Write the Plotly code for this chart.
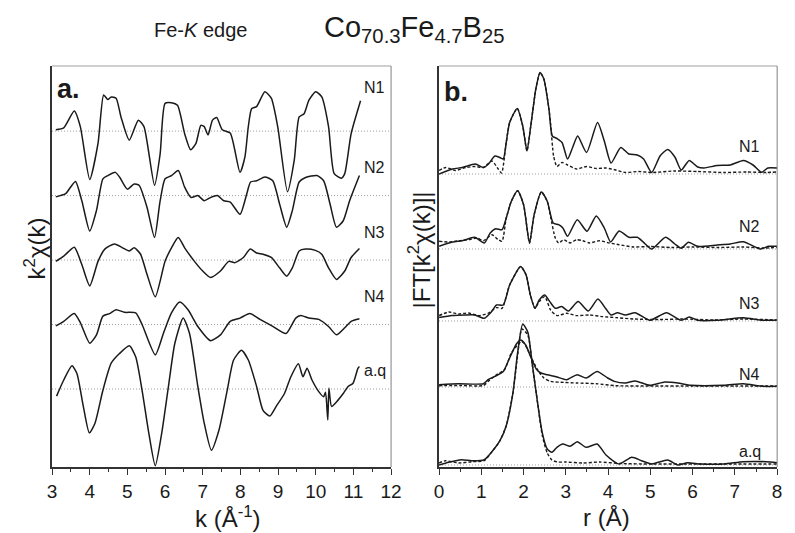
import plotly.graph_objects as go

# ---------------- panel a: k-space EXAFS, k^2 chi(k) ----------------
k_N1 = [3.10, 3.31, 3.59, 3.75, 4.00, 4.22, 4.37, 4.48, 4.57, 4.70, 4.83, 5.05, 5.29, 5.44, 5.72, 5.87, 6.00, 6.17,
        6.33, 6.52, 6.68, 6.82, 6.95, 7.04, 7.14, 7.26, 7.37, 7.52, 7.73, 7.99, 8.12, 8.21, 8.30, 8.43, 8.65, 8.82,
        8.99, 9.25, 9.43, 9.56, 9.69, 9.82, 10.00, 10.16, 10.34, 10.49, 10.68, 10.77, 10.94, 11.19]
chi_N1 = [0.02, 0.05, 0.31, 0.07, -0.75, -0.19, 0.56, 0.49, 0.53, 0.51, 0.22, -0.14, 0.17, 0.07, -0.84, -0.35, 0.43,
          0.44, 0.40, -0.04, -0.29, -0.19, 0.09, 0.07, -0.06, 0.17, 0.21, 0.02, -0.03, -0.64, -0.40, 0.07, 0.35, 0.38,
          0.61, 0.51, 0.07, -0.94, -0.45, 0.22, 0.27, 0.48, 0.61, 0.53, 0.07, -0.66, -0.73, -0.66, -0.04, 0.47]

k_N2 = [3.10, 3.36, 3.62, 3.79, 4.00, 4.18, 4.35, 4.48, 4.68, 4.80, 5.00, 5.18, 5.31, 5.52, 5.72, 5.87, 6.00, 6.17,
        6.35, 6.52, 6.69, 6.87, 7.04, 7.21, 7.39, 7.56, 7.73, 7.99, 8.17, 8.27, 8.43, 8.65, 8.86, 9.04, 9.23, 9.38,
        9.56, 9.73, 10.03, 10.21, 10.38, 10.55, 10.73, 10.90, 11.16]
chi_N2 = [-0.02, 0.03, 0.22, -0.08, -0.55, -0.23, 0.26, 0.31, 0.36, 0.28, 0.10, 0.18, 0.16, -0.18, -0.65, -0.08, 0.26,
          0.31, 0.39, 0.13, -0.03, 0.00, -0.08, -0.03, 0.00, -0.08, -0.10, -0.29, 0.03, 0.21, 0.23, 0.29, 0.23, -0.13,
          -0.49, -0.23, 0.21, 0.28, 0.31, 0.23, -0.13, -0.49, -0.39, -0.08, 0.31]

k_N3 = [3.10, 3.31, 3.59, 3.79, 4.00, 4.22, 4.40, 4.66, 4.87, 5.05, 5.18, 5.35, 5.52, 5.74, 6.00, 6.17, 6.35, 6.52,
        6.78, 7.00, 7.21, 7.47, 7.69, 7.86, 8.08, 8.26, 8.43, 8.60, 8.82, 9.04, 9.23, 9.38, 9.56, 9.73, 9.99, 10.16,
        10.34, 10.55, 10.77, 10.94, 11.16]
chi_N3 = [-0.02, 0.06, 0.20, -0.07, -0.40, -0.02, 0.17, 0.25, 0.19, 0.14, 0.19, 0.09, -0.22, -0.57, -0.02, 0.19, 0.35,
          0.19, -0.02, -0.17, -0.27, -0.17, -0.02, -0.04, 0.04, 0.17, 0.11, 0.09, 0.04, -0.12, -0.25, -0.12, 0.14,
          0.17, 0.15, 0.09, -0.12, -0.30, -0.17, 0.04, 0.18]

k_N4 = [3.10, 3.31, 3.59, 3.75, 4.00, 4.18, 4.35, 4.53, 4.70, 4.92, 5.22, 5.39, 5.74, 5.96, 6.17, 6.39, 6.61, 6.87,
        7.21, 7.47, 7.73, 7.99, 8.25, 8.52, 8.86, 9.21, 9.47, 9.60, 9.82, 10.08, 10.34, 10.55, 10.77, 10.94, 11.16]
chi_N4 = [-0.02, 0.05, 0.17, 0.03, -0.29, -0.16, 0.13, 0.17, 0.23, 0.19, 0.18, 0.00, -0.47, -0.13, 0.18, 0.35, 0.23,
          -0.03, -0.25, -0.16, 0.05, 0.10, 0.17, 0.08, -0.03, -0.14, 0.10, 0.14, 0.10, 0.08, -0.03, -0.16, -0.05,
          0.05, 0.09]

k_aq = [3.12, 3.31, 3.53, 3.66, 3.83, 3.99, 4.14, 4.35, 4.57, 4.79, 5.05, 5.22, 5.39, 5.57, 5.74, 5.91, 6.09, 6.26,
        6.48, 6.65, 6.87, 7.04, 7.23, 7.43, 7.65, 7.82, 8.03, 8.21, 8.43, 8.60, 8.78, 8.95, 9.17, 9.34, 9.54, 9.66,
        9.77, 9.90, 10.08, 10.21, 10.26, 10.32, 10.35, 10.42, 10.55, 10.73, 10.86, 10.99, 11.12, 11.16]
chi_aq = [-0.11, 0.14, 0.36, 0.24, -0.27, -0.68, -0.53, -0.02, 0.40, 0.55, 0.67, 0.50, -0.02, -0.69, -1.19, -0.69,
          0.04, 0.71, 1.10, 0.86, 0.04, -0.53, -0.95, -0.64, -0.02, 0.45, 0.60, 0.45, 0.04, -0.33, -0.42, -0.27,
          -0.07, 0.19, 0.39, 0.19, 0.32, 0.14, -0.04, -0.12, -0.05, -0.48, 0.01, -0.27, -0.20, -0.07, 0.04, 0.09,
          0.32, 0.35]

samples = ["N1", "N2", "N3", "N4", "a.q"]
k_offsets = [4.0, 3.0, 2.0, 1.0, 0.0]

# ---------------- panel b: |FT[k^2 chi(k)]| (solid = data, dashed = fit) ----------------
r_N1 = [0.00, 0.32, 0.55, 0.86, 1.05, 1.17, 1.32, 1.44, 1.52, 1.59, 1.67, 1.85, 1.98, 2.08, 2.17, 2.29, 2.39, 2.48,
        2.60, 2.68, 2.79, 2.91, 3.04, 3.16, 3.28, 3.49, 3.75, 3.91, 4.07, 4.30, 4.49, 4.69, 4.84, 5.03, 5.23, 5.41,
        5.58, 5.73, 5.92, 6.12, 6.27, 6.58, 6.89, 7.20, 7.43, 7.63, 7.78, 8.00]
ft_N1 = [0.0, 0.5, 0.65, 1.0, 0.65, 1.0, 1.8, 1.65, 1.5, 3.15, 5.15, 6.55, 4.8, 2.3, 4.8, 8.5, 10.15, 9.5, 6.5, 3.8,
         3.55, 3.15, 1.5, 2.65, 3.8, 2.15, 5.15, 3.3, 1.1, 2.65, 2.0, 1.9, 1.5, 0.15, 1.8, 2.45, 1.7, 0.4, 1.35, 0.7,
         0.6, 0.85, 0.9, 1.35, 0.9, 0.17, 0.6, 0.6]
rf_N1 = [0.00, 0.16, 0.39, 0.63, 0.86, 1.05, 1.25, 1.40, 1.48, 1.59, 1.67, 1.85, 1.98, 2.08, 2.17, 2.29, 2.39, 2.48,
         2.60, 2.64, 2.71, 2.79, 2.91, 3.04, 3.26, 3.49, 3.72, 3.95, 4.18, 4.41, 4.72, 5.03, 5.58, 6.12, 6.74, 7.28,
         7.74, 8.00]
fit_N1 = [0.35, 0.65, 0.35, 0.65, 0.75, 0.65, 1.3, 0.5, 0.1, 3.15, 5.15, 6.55, 4.8, 2.3, 4.8, 8.5, 10.15, 9.5, 6.5,
          5.0, 1.8, 0.75, 1.15, 0.9, 0.5, 0.75, 0.55, 0.6, 0.4, 0.15, 0.25, 0.15, 0.3, 0.25, 0.15, 0.2, 0.15, 0.2]

r_N2 = [0.00, 0.32, 0.55, 0.84, 1.07, 1.21, 1.34, 1.49, 1.59, 1.71, 1.86, 2.00, 2.14, 2.25, 2.42, 2.56, 2.70, 2.83,
        2.93, 3.04, 3.27, 3.50, 3.72, 3.91, 4.06, 4.26, 4.49, 4.69, 4.84, 5.03, 5.36, 5.58, 5.73, 5.90, 6.12, 6.58,
        6.89, 7.20, 7.60, 7.80, 8.00]
ft_N2 = [0.27, 0.7, 0.83, 1.17, 0.6, 1.6, 2.03, 1.93, 3.1, 4.77, 5.83, 4.43, 0.6, 3.43, 5.7, 4.77, 2.6, 2.43, 2.1,
         1.27, 2.93, 1.77, 3.3, 2.1, 0.7, 1.8, 1.17, 1.17, 0.67, 0.0, 1.17, 0.5, 0.07, 0.67, 0.27, 0.4, 0.5, 0.73,
         0.0, 0.27, 0.27]
rf_N2 = [0.00, 0.25, 0.48, 0.70, 0.90, 1.05, 1.25, 1.40, 1.49, 1.59, 1.71, 1.86, 2.00, 2.14, 2.25, 2.42, 2.56, 2.64,
         2.75, 2.83, 2.95, 3.10, 3.25, 3.40, 3.56, 3.79, 4.03, 4.26, 4.60, 5.00, 5.50, 6.00, 6.60, 7.20, 7.70, 8.00]
fit_N2 = [0.77, 0.7, 0.83, 0.93, 1.1, 0.83, 1.43, 0.93, 0.77, 3.1, 4.77, 5.83, 4.43, 0.6, 3.43, 5.7, 4.77, 3.2,
          1.1, 0.6, 0.93, 0.6, 0.93, 0.83, 0.6, 0.83, 0.6, 0.43, 0.2, 0.25, 0.15, 0.2, 0.15, 0.2, 0.1, 0.15]

r_N3 = [0.00, 0.31, 0.62, 0.85, 1.07, 1.24, 1.36, 1.52, 1.67, 1.93, 2.06, 2.16, 2.27, 2.37, 2.50, 2.62, 2.75, 2.90,
        3.06, 3.29, 3.53, 3.76, 3.95, 4.07, 4.22, 4.41, 4.64, 4.99, 5.38, 5.73, 5.92, 6.12, 6.58, 7.20, 7.66, 8.00]
ft_N3 = [0.34, 0.54, 0.6, 0.6, 0.27, 0.93, 1.6, 1.6, 3.6, 5.44, 4.6, 2.6, 1.27, 2.1, 2.6, 1.94, 1.27, 1.44, 1.0,
         1.94, 1.0, 2.2, 1.2, 0.6, 0.83, 0.6, 0.83, 0.07, 0.83, 0.07, 0.4, 0.07, 0.07, 0.33, 0.07, 0.1]
rf_N3 = [0.00, 0.23, 0.46, 0.70, 0.93, 1.16, 1.36, 1.49, 1.67, 1.93, 2.06, 2.16, 2.27, 2.37, 2.50, 2.64, 2.79, 3.02,
         3.25, 3.56, 3.87, 4.18, 4.60, 5.20, 5.80, 6.50, 7.20, 8.00]
fit_N3 = [0.54, 0.9, 0.7, 0.8, 0.54, 0.77, 1.34, 1.27, 3.6, 5.44, 4.6, 2.6, 1.27, 1.94, 2.44, 1.1, 0.54, 0.77, 0.54,
          0.6, 0.44, 0.34, 0.2, 0.15, 0.2, 0.1, 0.2, 0.1]

r_N4 = [0.00, 0.46, 1.05, 1.16, 1.32, 1.52, 1.67, 1.83, 1.93, 2.05, 2.17, 2.30, 2.41, 2.56, 2.79, 3.02, 3.27, 3.48,
        3.74, 3.99, 4.15, 4.41, 4.64, 4.99, 5.34, 5.65, 5.96, 6.74, 7.20, 7.66, 8.00]
ft_N4 = [0.23, 0.33, 0.33, 0.73, 1.06, 1.56, 2.9, 4.3, 4.7, 4.2, 3.0, 1.8, 1.4, 1.23, 1.0, 0.73, 1.23, 0.9, 1.56,
         0.9, 0.56, 0.4, 0.6, 0.17, 0.5, 0.4, 0.17, 0.17, 0.33, 0.07, 0.07]
rf_N4 = [0.00, 0.50, 1.05, 1.16, 1.36, 1.55, 1.71, 1.93, 2.01, 2.17, 2.33, 2.48, 2.64, 2.95, 3.25, 3.72, 4.18, 5.00,
         6.00, 7.00, 8.00]
fit_N4 = [0.13, 0.15, 0.15, 0.56, 1.23, 1.73, 3.4, 4.5, 4.4, 3.06, 1.73, 0.9, 0.56, 0.46, 0.4, 0.33, 0.13, 0.1, 0.1,
          0.1, 0.1]

r_aq = [0.00, 0.23, 0.53, 0.77, 1.07, 1.24, 1.44, 1.59, 1.75, 1.86, 1.98, 2.10, 2.21, 2.33, 2.44, 2.56, 2.67, 2.79,
        2.93, 3.10, 3.27, 3.48, 3.74, 3.95, 4.26, 4.56, 4.79, 5.03, 5.41, 5.65, 5.88, 6.19, 6.74, 7.20, 7.74, 8.00]
ft_aq = [0.0, 0.27, 0.53, 0.43, 0.53, 1.27, 2.43, 3.93, 7.27, 11.27, 14.1, 13.27, 9.93, 6.27, 3.27, 1.6, 1.27, 1.77,
         2.1, 1.87, 2.33, 1.77, 2.1, 1.0, 0.1, 0.77, 0.43, 0.1, 0.5, 0.0, 0.23, 0.1, 0.1, 0.33, 0.33, 0.23]
rf_aq = [0.00, 0.15, 0.46, 0.77, 1.07, 1.24, 1.44, 1.59, 1.75, 1.86, 1.96, 2.10, 2.21, 2.33, 2.44, 2.56, 2.67, 2.80,
         3.00, 3.40, 3.80, 4.30, 5.00, 6.00, 7.00, 8.00]
fit_aq = [0.2, 0.43, 0.2, 0.33, 0.43, 1.27, 2.43, 3.93, 7.27, 11.0, 13.6, 13.0, 9.93, 6.27, 3.0, 1.2, 0.5, 0.3, 0.3,
          0.2, 0.3, 0.15, 0.1, 0.1, 0.1, 0.1]

r_offsets = [29.3, 21.8, 14.6, 8.0, 0.2]

k_tick_vals = list(range(3, 13))
r_tick_vals = list(range(0, 9))

INK = "#1a1a1a"
FONT = "Liberation Sans, Arial, sans-serif"

fig = go.Figure()

k_series = [(k_N1, chi_N1), (k_N2, chi_N2), (k_N3, chi_N3), (k_N4, chi_N4), (k_aq, chi_aq)]
for (kx, cy), off in zip(k_series, k_offsets):
    fig.add_trace(go.Scatter(x=[3, 12], y=[off, off], mode="lines", xaxis="x", yaxis="y",
                             line=dict(color="#9a9a9a", width=1, dash="1px,2px"), hoverinfo="skip"))
    fig.add_trace(go.Scatter(x=kx, y=[v + off for v in cy], mode="lines", xaxis="x", yaxis="y",
                             line=dict(color=INK, width=1.5, shape="spline", smoothing=0.6)))

r_series = [(r_N1, ft_N1, rf_N1, fit_N1), (r_N2, ft_N2, rf_N2, fit_N2), (r_N3, ft_N3, rf_N3, fit_N3),
            (r_N4, ft_N4, rf_N4, fit_N4), (r_aq, ft_aq, rf_aq, fit_aq)]
for (rx, fy, rfx, ffy), off in zip(r_series, r_offsets):
    fig.add_trace(go.Scatter(x=[0, 8], y=[off, off], mode="lines", xaxis="x2", yaxis="y2",
                             line=dict(color="#9a9a9a", width=1, dash="1px,2px"), hoverinfo="skip"))
    fig.add_trace(go.Scatter(x=rfx, y=[v + off for v in ffy], mode="lines", xaxis="x2", yaxis="y2",
                             line=dict(color=INK, width=1.4, dash="3px,2px", shape="spline", smoothing=0.6)))
    fig.add_trace(go.Scatter(x=rx, y=[v + off for v in fy], mode="lines", xaxis="x2", yaxis="y2",
                             line=dict(color=INK, width=1.5, shape="spline", smoothing=0.6)))

x_dom_a = [0.0604, 0.4956]
x_dom_b = [0.5572, 0.9912]
y_dom = [0.1238, 0.8762]

xaxis_common = dict(showline=True, linecolor="#333333", linewidth=1.5, ticks="outside", ticklen=6,
                    tickwidth=1.2, tickcolor="#333333", showgrid=False, zeroline=False,
                    tickfont=dict(family=FONT, size=19, color=INK),
                    minor=dict(ticks="outside", ticklen=3, tickcolor="#333333", dtick=0.5, showgrid=False))
yaxis_common = dict(showline=True, linecolor="#333333", linewidth=1.5, ticks="", showticklabels=False,
                    showgrid=False, zeroline=False, domain=y_dom)

fig.update_layout(
    width=795, height=533, margin=dict(l=0, r=0, t=0, b=0),
    paper_bgcolor="white", plot_bgcolor="white", showlegend=False,
    xaxis=dict(domain=x_dom_a, range=[3, 12], anchor="y", tickvals=k_tick_vals, **xaxis_common),
    yaxis=dict(anchor="x", range=[-1.21, 5.01], **yaxis_common),
    xaxis2=dict(domain=x_dom_b, range=[0, 8], anchor="y2", tickvals=r_tick_vals, **xaxis_common),
    yaxis2=dict(anchor="x2", range=[0, 40.1], **yaxis_common),
)

# light frame on top and right of each panel
shapes = []
for dom in (x_dom_a, x_dom_b):
    shapes.append(dict(type="line", xref="paper", yref="paper", x0=dom[0], x1=dom[1], y0=y_dom[1], y1=y_dom[1],
                       line=dict(color="#a0a0a0", width=1)))
    shapes.append(dict(type="line", xref="paper", yref="paper", x0=dom[1], x1=dom[1], y0=y_dom[0], y1=y_dom[1],
                       line=dict(color="#808080", width=1)))
fig.update_layout(shapes=shapes)


def px(x, y, xa="center"):
    return dict(x=x / 795, y=1 - y / 533, xref="paper", yref="paper", showarrow=False,
                xanchor=xa, yanchor="middle")


ann = []
lab_font = dict(family=FONT, size=16, color=INK)
k_label_y = [4.67, 3.43, 2.43, 1.44, 0.29]
for name, yv in zip(samples, k_label_y):
    ann.append(dict(x=11.56, y=yv, xref="x", yref="y", text=name, showarrow=False, font=lab_font,
                    xanchor="center", yanchor="middle"))
r_label_y = [32.0, 24.0, 16.4, 9.3, 1.6]
for name, yv in zip(samples, r_label_y):
    ann.append(dict(x=7.35, y=yv, xref="x2", yref="y2", text=name, showarrow=False, font=lab_font,
                    xanchor="center", yanchor="middle"))

ann += [
    dict(**px(51, 89, "left"), text="<b>a.</b>", font=dict(family=FONT, size=27, color=INK)),
    dict(**px(446, 92, "left"), text="<b>b.</b>", font=dict(family=FONT, size=27, color=INK)),
    dict(**px(228, 517), text="k (Å<sup>-1</sup>)", font=dict(family=FONT, size=24, color=INK)),
    dict(**px(614, 517), text="r (Å)", font=dict(family=FONT, size=24, color=INK)),
    dict(**px(31, 248), text="k<sup>2</sup>χ(k)", textangle=-90, font=dict(family=FONT, size=24, color=INK)),
    dict(**px(423, 250), text="|FT[k<sup>2</sup>χ(k)]|", textangle=-90,
         font=dict(family=FONT, size=24, color=INK)),
    dict(**px(200, 30), text="Fe-<i>K</i> edge", font=dict(family=FONT, size=20, color=INK)),
    dict(**px(418, 29), text="Co<sub>70.3</sub>Fe<sub>4.7</sub>B<sub>25</sub>",
         font=dict(family=FONT, size=29, color=INK)),
]
fig.update_layout(annotations=ann)

fig.write_html("out.html")
